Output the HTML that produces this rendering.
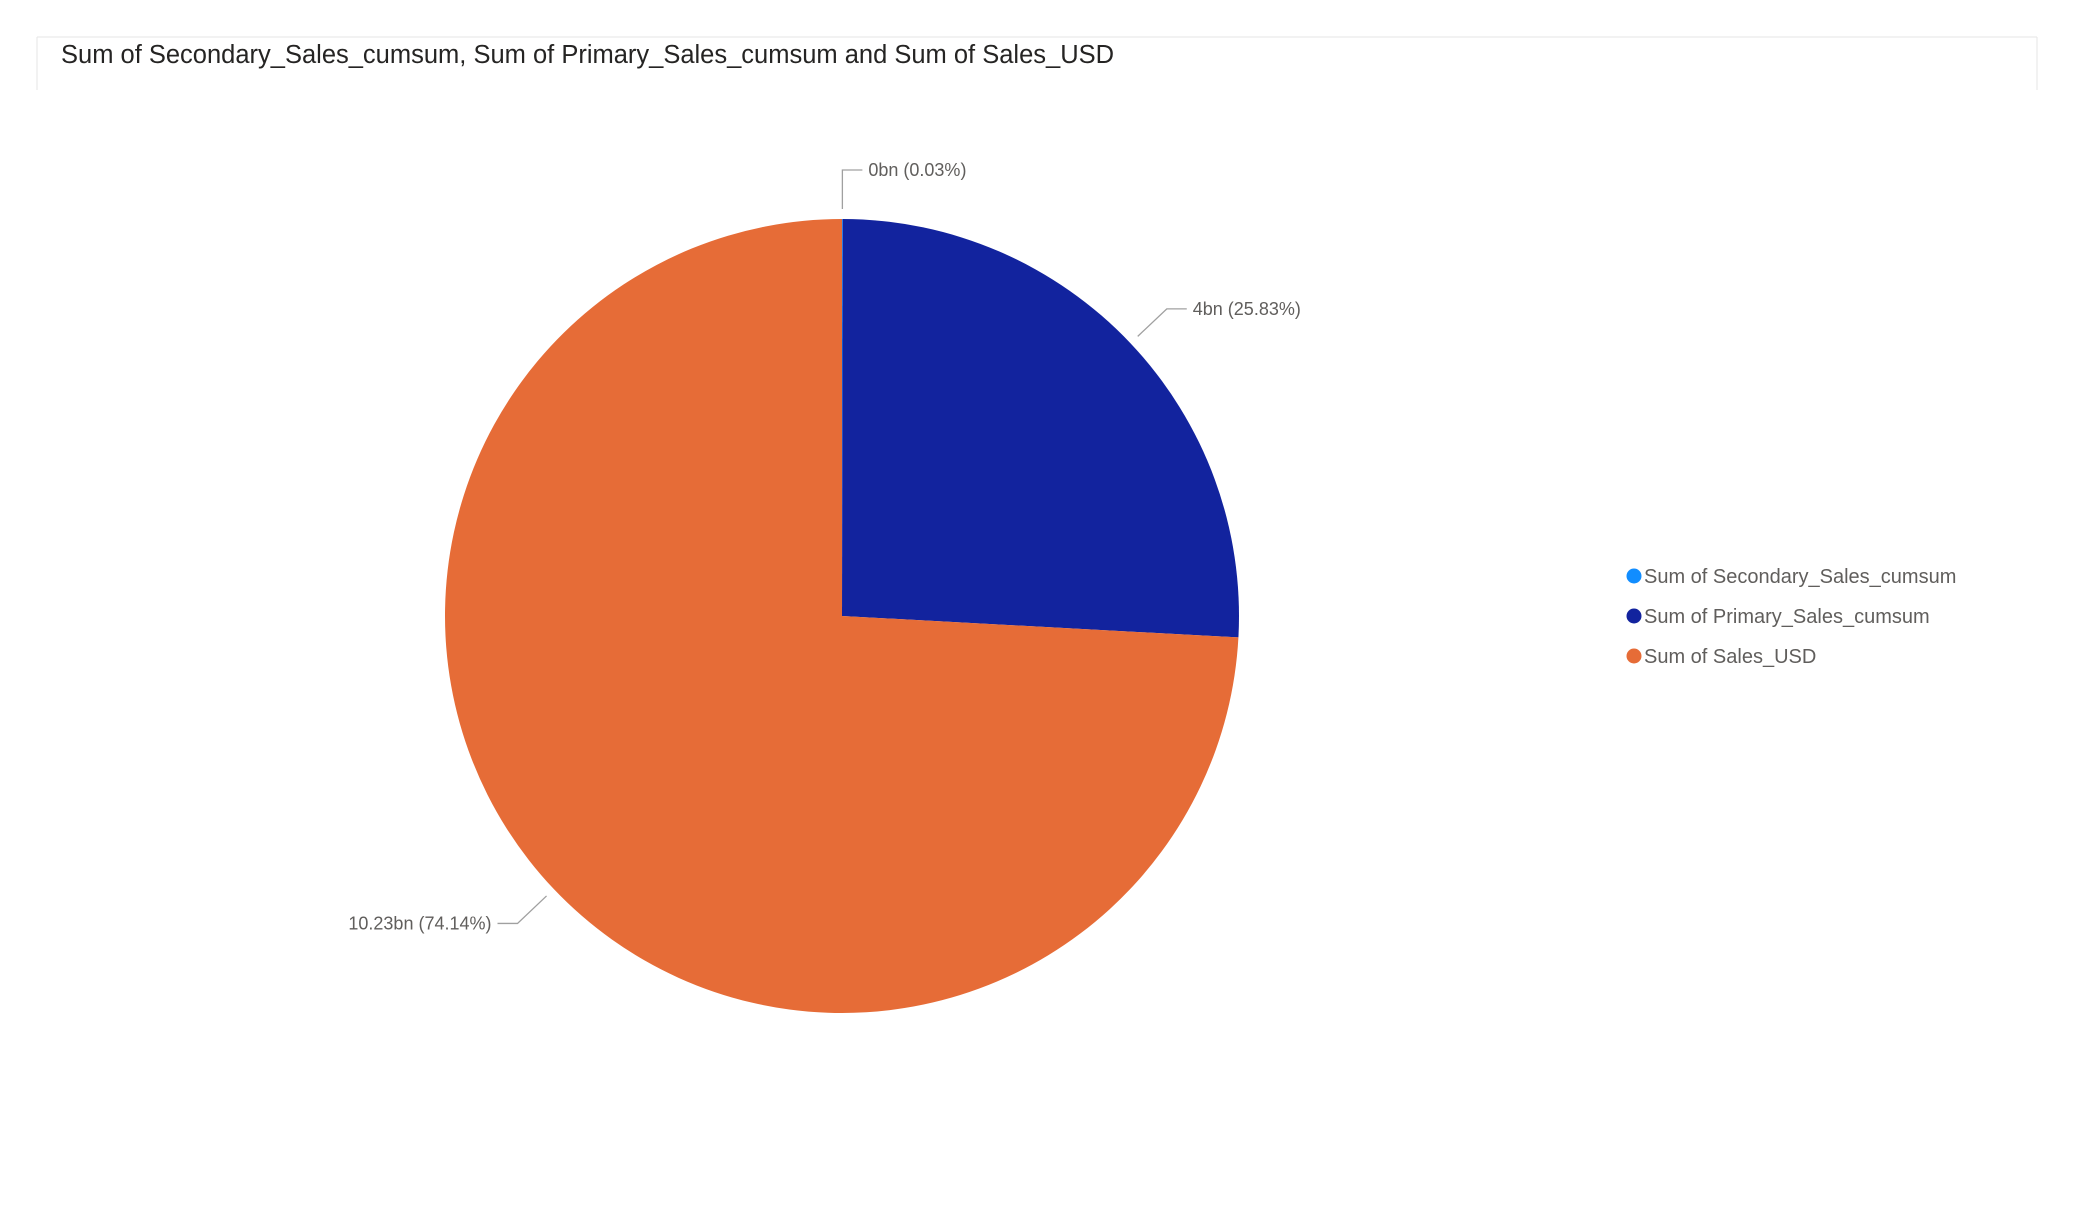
<!DOCTYPE html>
<html><head><meta charset="utf-8"><style>
body{margin:0;background:#fff;width:2075px;height:1200px;overflow:hidden;font-family:"Liberation Sans",sans-serif}
</style></head><body>
<svg width="2075" height="1200">
<line x1="37" y1="37" x2="2037" y2="37" stroke="#e6e6e6"/>
<line x1="37" y1="37" x2="37" y2="90" stroke="#e6e6e6"/>
<line x1="2037" y1="37" x2="2037" y2="90" stroke="#e6e6e6"/>
<text x="61" y="63" font-size="25.5" fill="#252423">Sum of Secondary_Sales_cumsum, Sum of Primary_Sales_cumsum and Sum of Sales_USD</text>
<g id="pie"></g>
<g id="labels" font-size="18" fill="#605e5c"></g>
<g id="legend" font-size="20" fill="#605e5c"></g>
</svg>
<script>
const categories=["Sum of Secondary_Sales_cumsum","Sum of Primary_Sales_cumsum","Sum of Sales_USD"];
const values=[0.0041,3.564,10.23];
const valueLabels=["0bn (0.03%)","4bn (25.83%)","10.23bn (74.14%)"];
const colors=["#118DFF","#12239E","#E66C37"];
const NS="http://www.w3.org/2000/svg";
const cx=842,cy=616,r=397;
const total=values.reduce((a,b)=>a+b,0);
const pie=document.getElementById('pie'),labels=document.getElementById('labels'),legend=document.getElementById('legend');
function pt(a,rr){return [cx+rr*Math.sin(a),cy-rr*Math.cos(a)];}
let a0=0;
values.forEach((v,i)=>{
  const a1=a0+v/total*2*Math.PI;
  const p0=pt(a0,r),p1=pt(a1,r);
  const large=(a1-a0)>Math.PI?1:0;
  const path=document.createElementNS(NS,'path');
  path.setAttribute('d',`M${cx},${cy} L${p0[0]},${p0[1]} A${r},${r} 0 ${large} 1 ${p1[0]},${p1[1]} Z`);
  path.setAttribute('fill',colors[i]);
  
  
  pie.appendChild(path);
  const mid=(a0+a1)/2;
  const s=pt(mid,r+10);
  let e,h;
  if(i===0){e=[s[0],cy-r-49];}
  else{e=pt(mid,r+50);}
  const right=Math.sin(mid)>=0;
  h=[e[0]+(right?20:-20),e[1]];
  const pl=document.createElementNS(NS,'polyline');
  pl.setAttribute('points',`${s[0]},${s[1]} ${e[0]},${e[1]} ${h[0]},${h[1]}`);
  pl.setAttribute('fill','none');pl.setAttribute('stroke','#a0a0a0');pl.setAttribute('stroke-width','1.3');
  
  
  labels.appendChild(pl);
  const t=document.createElementNS(NS,'text');
  t.setAttribute('x',h[0]+(right?6:-6));t.setAttribute('y',e[1]+6);
  t.setAttribute('text-anchor',right?'start':'end');
  t.textContent=valueLabels[i];
  
  
  labels.appendChild(t);
  a0=a1;
});
categories.forEach((c,i)=>{
  const y=576+i*40;
  const d=document.createElementNS(NS,'circle');
  d.setAttribute('cx',1634);d.setAttribute('cy',y);d.setAttribute('r',7.5);d.setAttribute('fill',colors[i]);
  
  
  legend.appendChild(d);
  const t=document.createElementNS(NS,'text');
  t.setAttribute('x',1644);t.setAttribute('y',y+7);t.textContent=c;
  
  
  legend.appendChild(t);
});
</script>
</body></html>
